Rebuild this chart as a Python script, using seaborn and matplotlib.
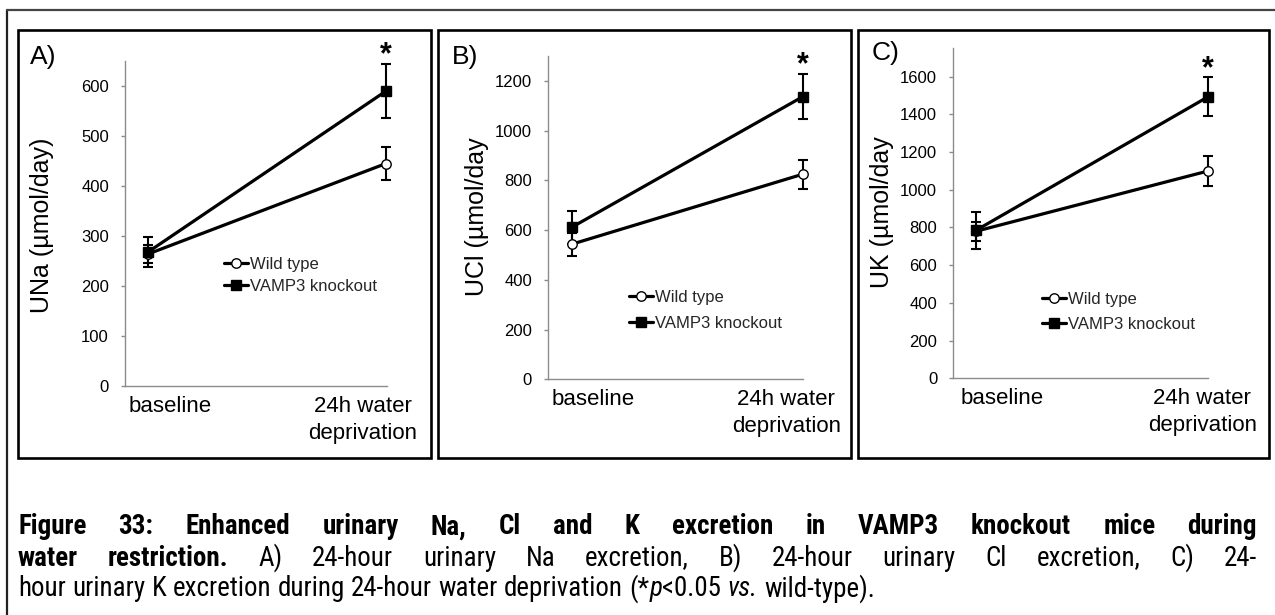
import matplotlib
matplotlib.use("Agg")
import matplotlib.pyplot as plt
import pandas as pd
import seaborn as sns
from matplotlib import font_manager
from matplotlib.lines import Line2D
from matplotlib.patches import Rectangle

# ---------------------------------------------------------------- data
categories = ["baseline", "24h water\ndeprivation"]
groups = ["Wild type", "VAMP3 knockout"]
panel_letters = ["A)", "B)", "C)"]
ylabels = ["UNa (µmol/day)", "UCl (µmol/day", "UK (µmol/day"]

# 24-hour urinary Na (µmol/day), mean and SEM
wt_na = [264, 445]
wt_na_err = [18, 33]
ko_na = [268, 590]
ko_na_err = [30, 54]

# 24-hour urinary Cl (µmol/day)
wt_cl = [543, 825]
wt_cl_err = [47, 58]
ko_cl = [611, 1137]
ko_cl_err = [66, 92]

# 24-hour urinary K (µmol/day)
wt_k = [780, 1100]
wt_k_err = [50, 79]
ko_k = [785, 1494]
ko_k_err = [98, 104]

yticks_a = [0, 100, 200, 300, 400, 500, 600]
yticks_b = [0, 200, 400, 600, 800, 1000, 1200]
yticks_c = [0, 200, 400, 600, 800, 1000, 1200, 1400, 1600]

caption_1 = "Figure 33: Enhanced urinary Na, Cl and K excretion in VAMP3 knockout mice during"
caption_2_bold = "water restriction."
caption_2 = "A) 24-hour urinary Na excretion, B) 24-hour urinary Cl excretion, C) 24-"
caption_3 = "hour urinary K excretion during 24-hour water deprivation"

# ---------------------------------------------------------------- style
sns.set_theme(style="white")
plt.rcParams["font.family"] = ["Liberation Sans", "DejaVu Sans"]


def _weight(w):
    return w if isinstance(w, (int, float)) else font_manager.weight_dict.get(w, 400)


def _narrow_family():
    """Pick a narrow sans face (with bold and italic) for the caption."""
    faces = font_manager.fontManager.ttflist
    choices = [("Liberation Sans Narrow", False), ("Nimbus Sans Narrow", False),
               ("Roboto Condensed", False), ("Roboto", True), ("Noto Sans", True),
               ("Fira Sans Condensed", False), ("Barlow Semi Condensed", False),
               ("DejaVu Sans", True)]
    for name, need_cond in choices:
        fs = [f for f in faces if f.name == name]
        if need_cond:
            fs = [f for f in fs if "condensed" in str(f.stretch)]
        if any(_weight(f.weight) >= 700 for f in fs) and \
                any(f.style in ("italic", "oblique") for f in fs):
            return [name, "DejaVu Sans"], ("condensed" if need_cond else "normal")
    return ["Liberation Sans", "DejaVu Sans"], "normal"


CAP_FAMILY, CAP_STRETCH = _narrow_family()

W, H = 1275, 615
fig = plt.figure(figsize=(W / 100, H / 100), dpi=100, facecolor="white")


def fx(px):
    return px / W


def fy(py):
    return 1 - py / H


AXIS_GREY = "#8c8c8c"

# panel layout: axes box in pixels (left, top, right, bottom), x-limits,
# tick-label positions, outer frame box, letter position, legend position
panels = [
    dict(ax_box=(125, 61, 387, 386), xlim=(-0.097, 1.004), ylim=650, yticks=yticks_a,
         xlab_pos=[0.092, 0.903], frame=(18, 30, 431, 458), letter=(30, 45),
         ylab=(42, 225), legend=(224, 267, 0.40),
         wt=(wt_na, wt_na_err), ko=(ko_na, ko_na_err)),
    dict(ax_box=(548, 56, 803, 379.3), xlim=(-0.102, 1.0), ylim=1300, yticks=yticks_b,
         xlab_pos=[0.092, 0.928], frame=(438, 30, 851, 458), letter=(452, 45),
         ylab=(477, 217), legend=(629, 300, 0.64),
         wt=(wt_cl, wt_cl_err), ko=(ko_cl, ko_cl_err)),
    dict(ax_box=(953.3, 48.4, 1208.3, 378.3), xlim=(-0.098, 1.0), ylim=1750, yticks=yticks_c,
         xlab_pos=[0.111, 0.974], frame=(858, 30, 1269, 458), letter=(872, 41),
         ylab=(882, 212), legend=(1042, 302, 0.58),
         wt=(wt_k, wt_k_err), ko=(ko_k, ko_k_err)),
]

# outer page frame (open to the right and bottom)
fig.add_artist(Line2D([fx(7), fx(7)], [fy(10), 0], transform=fig.transFigure,
                      color="#222222", lw=1.6))
fig.add_artist(Line2D([fx(7), 1], [fy(10), fy(10)], transform=fig.transFigure,
                      color="#444444", lw=1.6))

LINE_W = 2.3
MS = 6.8

for p, letter, ylabel in zip(panels, panel_letters, ylabels):
    l, t, r, b = p["ax_box"]
    ax = fig.add_axes([fx(l), fy(b), fx(r) - fx(l), fy(t) - fy(b)])
    ax.set_facecolor("none")

    for (vals, errs), group, marker, face in [
        (p["wt"], groups[0], "o", "white"),
        (p["ko"], groups[1], "s", "black"),
    ]:
        df = pd.DataFrame({"x": [0, 1], "y": vals})
        sns.lineplot(data=df, x="x", y="y", ax=ax, color="black", lw=LINE_W,
                     marker=marker, markersize=MS, markerfacecolor=face,
                     markeredgecolor="black", markeredgewidth=1.0,
                     errorbar=None, legend=False, zorder=4)
        ax.errorbar([0, 1], vals, yerr=errs, fmt="none", ecolor="black",
                    elinewidth=1.5, capsize=3.3, capthick=1.5, zorder=3)

    for ln in ax.lines:
        ln.set_clip_on(False)
    for coll in ax.collections:
        coll.set_clip_on(False)

    # significance mark above the knockout error bar
    ko_vals, ko_errs = p["ko"]
    ax.annotate("*", xy=(1, ko_vals[1] + ko_errs[1]), xytext=(0, 0.2),
                textcoords="offset points", ha="center", va="baseline",
                fontsize=22, fontweight="bold", color="black",
                annotation_clip=False)

    ax.set_xlim(*p["xlim"])
    ax.set_ylim(0, p["ylim"])
    ax.set_yticks(p["yticks"])
    ax.set_xticks(p["xlab_pos"], categories)
    ax.set_xlabel("")
    ax.set_ylabel("")

    for side in ("top", "right"):
        ax.spines[side].set_visible(False)
    for side in ("left", "bottom"):
        ax.spines[side].set_color(AXIS_GREY)
        ax.spines[side].set_linewidth(1.0)

    ax.tick_params(axis="y", left=True, length=3, width=1.0, color=AXIS_GREY,
                   direction="out", pad=8.6, labelsize=12, labelcolor="black")
    ax.tick_params(axis="x", bottom=False, length=0, pad=7, labelsize=16,
                   labelcolor="black")
    for lbl in ax.get_xticklabels():
        lbl.set_linespacing(1.38)

    # panel frame
    fl, ft, fr, fb = p["frame"]
    fig.add_artist(Rectangle((fx(fl), fy(fb)), fx(fr) - fx(fl), fy(ft) - fy(fb),
                             transform=fig.transFigure, fill=False,
                             ec="black", lw=1.9))

    # panel letter
    fig.text(fx(p["letter"][0]), fy(p["letter"][1]), letter, fontsize=19,
             ha="left", va="top", color="black")

    # y-axis title
    fig.text(fx(p["ylab"][0]), fy(p["ylab"][1]), ylabel, fontsize=18,
             rotation=90, ha="center", va="center", color="black")

    # legend
    lx, ly, lsp = p["legend"]
    handles = [
        Line2D([], [], color="black", lw=LINE_W, marker="o", ms=MS,
               mfc="white", mec="black", mew=1.0),
        Line2D([], [], color="black", lw=LINE_W, marker="s", ms=MS,
               mfc="black", mec="black", mew=1.0),
    ]
    ax.legend(handles, groups, loc="upper left",
              bbox_to_anchor=(fx(lx), fy(ly - 9.7)), bbox_transform=fig.transFigure,
              frameon=False, borderpad=0, borderaxespad=0, handlelength=1.44,
              handletextpad=0.12, labelspacing=lsp, fontsize=12)

# ---------------------------------------------------------------- caption
fig.canvas.draw()
renderer = fig.canvas.get_renderer()

BOLD = dict(fontweight="bold")
REG = dict()
ITAL = dict(fontstyle="italic")


def text_width(s, props, size):
    t = fig.text(0, 0, s, fontsize=size, family=CAP_FAMILY,
                 fontstretch=CAP_STRETCH, **props)
    w = t.get_window_extent(renderer).width
    t.remove()
    return w


def line_layout(words, size):
    widths = [sum(text_width(s, pr, size) for s, pr in w) for w in words]
    space = text_width("x x", REG, size) - text_width("xx", REG, size)
    return widths, space


def place_line(words, x0, x1, base, justify, size):
    widths, space = line_layout(words, size)
    if justify and len(words) > 1:
        gap = (x1 - x0 - sum(widths)) / (len(words) - 1)
    else:
        gap = space
    x = x0
    for w, wd in zip(words, widths):
        xx = x
        for s, pr in w:
            fig.text(fx(xx), fy(base), s, fontsize=size, family=CAP_FAMILY,
                     fontstretch=CAP_STRETCH, ha="left", va="baseline",
                     color="black", **pr)
            xx += text_width(s, pr, size)
        x += wd + gap


line1 = [[(w, BOLD)] for w in caption_1.split()]
line2 = [[(w, BOLD)] for w in caption_2_bold.split()] + \
        [[(w, REG)] for w in caption_2.split()]
line3 = [[(w, REG)] for w in caption_3.split()] + [
    [("(*", REG), ("p", ITAL), ("<0.05", REG)],
    [("vs.", ITAL)],
    [("wild-type).", REG)],
]

# the last (unjustified) line runs to about x = 870 px
w10, sp10 = line_layout(line3, 10)
CAP_SIZE = min(21.0, 10 * 852 / (sum(w10) + sp10 * (len(line3) - 1)))

place_line(line1, 18, 1257, 534.5, True, CAP_SIZE)
place_line(line2, 18, 1257, 565.5, True, CAP_SIZE)
place_line(line3, 18, 1257, 596.5, False, CAP_SIZE)

fig.savefig("out.png", dpi=100, facecolor="white")
